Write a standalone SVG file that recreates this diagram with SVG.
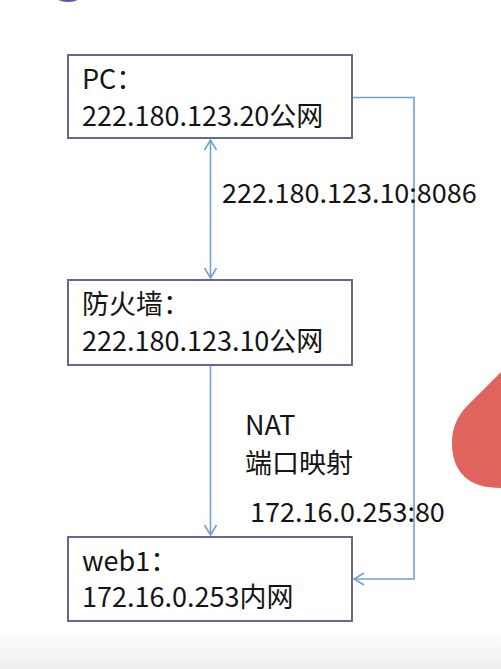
<svg xmlns="http://www.w3.org/2000/svg" width="501" height="669" viewBox="0 0 501 669">
  <style>
    .box { fill: #ffffff; stroke: #6a6597; stroke-width: 2; }
    .t { font-family: "Noto Sans CJK SC", "Noto Sans", sans-serif; font-size: 27px; fill: #141414; }
    .lbl { font-family: "Noto Sans CJK SC", "Noto Sans", sans-serif; font-size: 27px; fill: #141414; }
    .conn { fill: none; stroke: #6ea2d3; stroke-width: 1.6; }
  </style>
  <defs>
    <marker id="arr" markerUnits="userSpaceOnUse" markerWidth="14" markerHeight="16" viewBox="-12 -8 14 16" refX="0" refY="0" orient="auto-start-reverse">
      <path d="M-10,-6 L0,0 L-10,6" fill="none" stroke="#6ea2d3" stroke-width="1.6"/>
    </marker>
    <linearGradient id="bottomfade" x1="0" y1="0" x2="0" y2="1">
      <stop offset="0" stop-color="#ffffff"/>
      <stop offset="1" stop-color="#eeeeee"/>
    </linearGradient>
  </defs>
  <rect width="501" height="669" fill="#ffffff"/>
  <rect x="0" y="628" width="501" height="41" fill="url(#bottomfade)"/>
  <ellipse cx="68" cy="-9" rx="17" ry="11" fill="#5b52a3"/>
  <path d="M501,372 L468,405 Q452,421 452,442 Q452,488 501,488 Z" fill="#e0645e"/>

  <g id="connectors">
    <line class="conn" x1="210.5" y1="140" x2="210.5" y2="278" marker-start="url(#arr)" marker-end="url(#arr)"/>
    <line class="conn" x1="210.5" y1="365" x2="210.5" y2="535" marker-end="url(#arr)"/>
    <path class="conn" d="M352,97.5 H414 V579 H354" marker-end="url(#arr)"/>
  </g>

  <g id="pc">
    <rect class="box" x="68" y="55" width="284" height="83"/>
    <text class="t" x="82" y="89">PC：</text>
    <text class="t" x="82" y="126">222.180.123.20公网</text>
  </g>

  <g id="firewall">
    <rect class="box" x="68" y="280" width="284" height="85"/>
    <text class="t" x="82" y="314">防火墙：</text>
    <text class="t" x="82" y="351">222.180.123.10公网</text>
  </g>

  <g id="web1">
    <rect class="box" x="68" y="537" width="284" height="84"/>
    <text class="t" x="82" y="571">web1：</text>
    <text class="t" x="82" y="607">172.16.0.253内网</text>
  </g>

  <g id="labels">
    <text class="lbl" x="222" y="203">222.180.123.10:8086</text>
    <text class="lbl" x="245" y="435">NAT</text>
    <text class="lbl" x="245" y="473">端口映射</text>
    <text class="lbl" x="250" y="522">172.16.0.253:80</text>
  </g>
</svg>
